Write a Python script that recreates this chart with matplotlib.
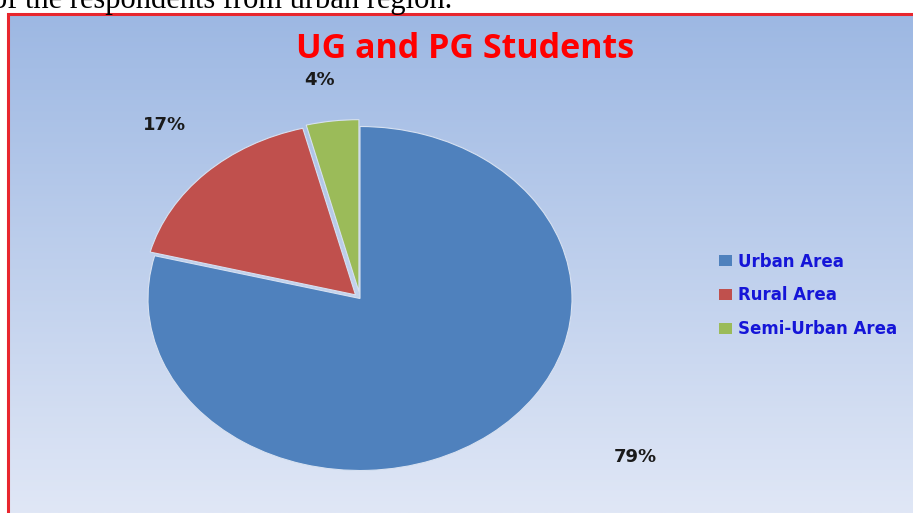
import numpy as np
import matplotlib.pyplot as plt
from matplotlib.patches import Rectangle

# data
areas = ["Urban Area", "Rural Area", "Semi-Urban Area"]
shares = [79, 17, 4]
colors = ["#4f81bd", "#c0504d", "#9bbb59"]
pct_labels = ["79%", "17%", "4%"]

W, H = 913, 513
fig = plt.figure(figsize=(W / 100, H / 100), dpi=100)
fig.patch.set_facecolor("white")

def px_box(x0, y0, x1, y1):
    # pixel box (from top-left) -> figure fraction [l, b, w, h]
    return [x0 / W, 1 - y1 / H, (x1 - x0) / W, (y1 - y0) / H]

# gradient background inside the red frame
bg = fig.add_axes(px_box(9, 15, W, H))
grad = np.linspace(0, 1, 256).reshape(-1, 1)
top = np.array([157, 184, 227]) / 255
bot = np.array([224, 231, 246]) / 255
img = top + (bot - top) * grad[..., None]
img = np.repeat(img, 2, axis=1)
bg.imshow(img, aspect="auto", extent=[0, 1, 0, 1])
bg.set_axis_off()

# red frame
fig.patches.append(Rectangle((8 / W, -0.05), 1.1, 1 - 14 / H + 0.05,
                             transform=fig.transFigure, fill=False,
                             edgecolor="#e8262e", linewidth=2.2))

# caption line cut off at the top
fig.text(-8 / W, 1 - 8 / H, "of the respondents from urban region.",
         fontsize=22, family="Liberation Serif", color="black", va="baseline")

# pie (elliptical: rx=212px, ry=172px)
cx, cy, rx, ry = 360, 298.5, 212, 172
ax = fig.add_axes(px_box(cx - 1.1 * rx, cy - 1.1 * ry, cx + 1.1 * rx, cy + 1.1 * ry))
ax.patch.set_alpha(0)
wedges, _ = ax.pie(shares, colors=colors, startangle=90, counterclock=False,
                   explode=[0.0, 0.03, 0.04],
                   wedgeprops=dict(edgecolor="#d7e1f1", linewidth=0.8))
ax.set_aspect("auto")
ax.set_xlim(-1.1, 1.1)
ax.set_ylim(-1.1, 1.1)
ax.set_axis_off()

label_pos = [(1.30, -0.92), (-0.92, 1.01), (-0.19, 1.27)]
for txt, (lx, ly) in zip(pct_labels, label_pos):
    ax.text(lx, ly, txt, ha="center", va="center", fontsize=13,
            fontweight="bold", family="DejaVu Sans", color="#1a1a1a")

fig.text(465 / W, 1 - 49 / H, "UG and PG Students", ha="center", va="center",
         fontsize=24.5, fontweight="bold", family="Open Sans", color="#ff0000")

leg = fig.legend(wedges, areas, loc="upper left",
                 bbox_to_anchor=(704 / W, 1 - 237.5 / H), frameon=False,
                 handlelength=0.8, handleheight=0.6, handletextpad=0.35,
                 labelspacing=0.95, prop=dict(family="DejaVu Sans", weight="bold", size=12))
for t in leg.get_texts():
    t.set_color("#1515d8")
for h in leg.legend_handles:
    h.set_edgecolor("none")

fig.savefig("out.png", dpi=100)
